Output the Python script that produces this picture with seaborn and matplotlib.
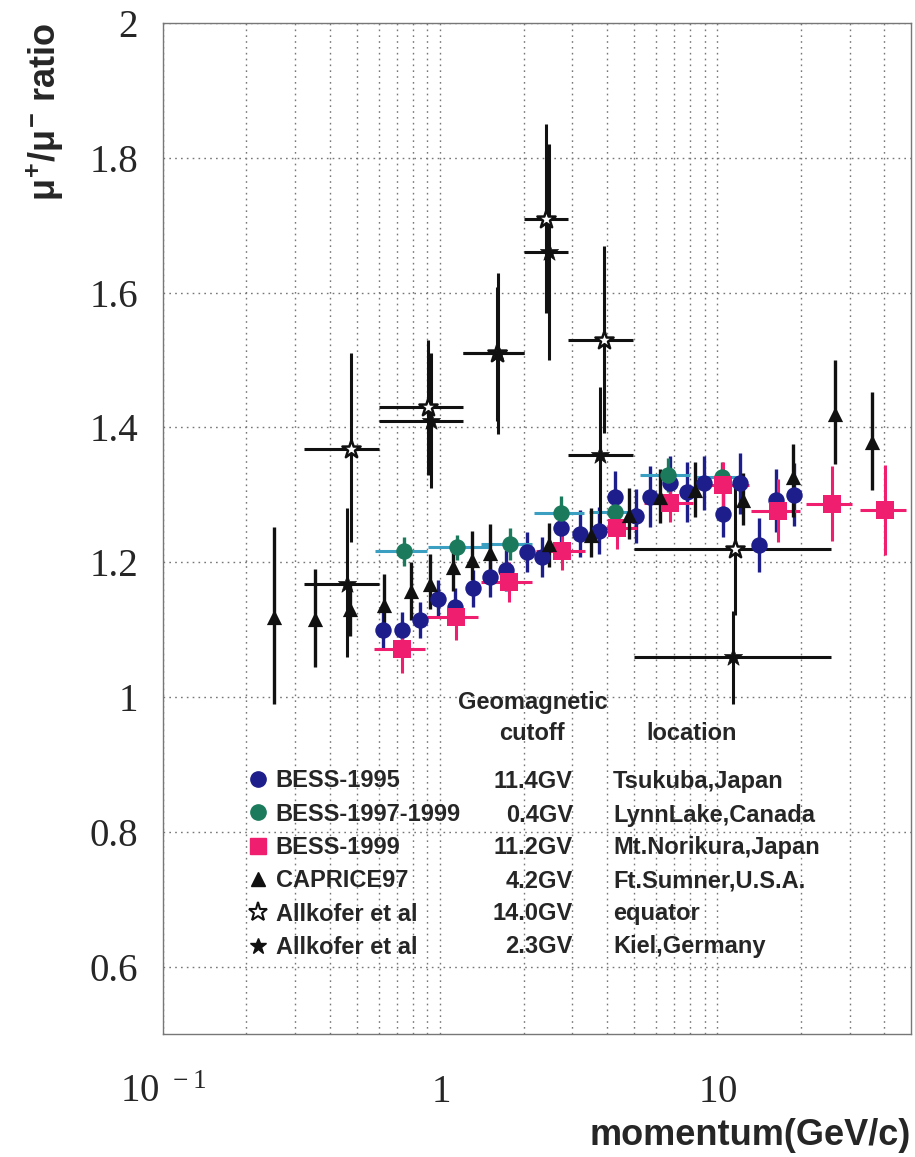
import numpy as np
import pandas as pd
import matplotlib
matplotlib.use('Agg')
import matplotlib.pyplot as plt
import seaborn as sns
from matplotlib.lines import Line2D
from matplotlib.ticker import FixedLocator, NullFormatter

# ---------------- data ----------------
# BESS-1995 (Tsukuba)
b95_p = [0.622, 0.728, 0.843, 0.981, 1.13, 1.31, 1.517, 1.73, 2.06, 2.34, 2.72, 3.2,
         3.74, 4.27, 5.07, 5.74, 6.73, 7.78, 8.97, 10.5, 12.1, 14.1, 16.3, 18.9]
b95_r = [1.099, 1.099, 1.114, 1.146, 1.134, 1.161, 1.178, 1.188, 1.215, 1.208, 1.251, 1.242,
         1.247, 1.297, 1.268, 1.297, 1.317, 1.304, 1.317, 1.272, 1.317, 1.226, 1.292, 1.300]
b95_e = [0.027, 0.027, 0.027, 0.027, 0.027, 0.027, 0.03, 0.03, 0.03, 0.03, 0.03, 0.035,
         0.035, 0.038, 0.04, 0.045, 0.04, 0.045, 0.04, 0.035, 0.045, 0.04, 0.047, 0.047]

# BESS-1997-1999 (Lynn Lake)
g_p = [0.738, 1.15, 1.78, 2.73, 4.28, 6.62, 10.4]
g_r = [1.216, 1.222, 1.227, 1.273, 1.274, 1.329, 1.326]
g_e = [0.022, 0.018, 0.024, 0.025, 0.025, 0.025, 0.022]
g_lo = [0.584, 0.903, 1.40, 2.18, 3.45, 5.28, 8.3]
g_hi = [0.898, 1.50, 2.14, 3.30, 5.0, 8.0, 12.0]

# BESS-1999 (Mt. Norikura)
p_p = [0.728, 1.14, 1.775, 2.76, 4.33, 6.73, 10.5, 16.5, 25.9, 40.2]
p_r = [1.071, 1.118, 1.170, 1.217, 1.251, 1.288, 1.314, 1.276, 1.286, 1.277]
p_elo = [1.035, 1.085, 1.141, 1.189, 1.22, 1.26, 1.267, 1.23, 1.231, 1.21]
p_ehi = [1.099, 1.143, 1.20, 1.247, 1.282, 1.312, 1.349, 1.324, 1.342, 1.344]
p_lo = [0.577, 0.90, 1.40, 2.21, 3.54, 5.42, 8.6, 13.2, 20.9, 32.7]
p_hi = [0.88, 1.37, 2.14, 3.33, 5.13, 8.18, 13.0, 19.8, 30.7, 47.9]

# CAPRICE97
c_p = [0.252, 0.353, 0.472, 0.625, 0.782, 0.923, 1.11, 1.30, 1.51, 2.47, 3.49, 4.8,
       6.19, 8.33, 12.4, 18.8, 26.6, 36.3]
c_r = [1.118, 1.116, 1.131, 1.136, 1.157, 1.168, 1.193, 1.203, 1.213, 1.227, 1.24, 1.27,
       1.297, 1.307, 1.292, 1.326, 1.420, 1.378]
c_elo = [0.989, 1.045, 1.09, 1.104, 1.114, 1.13, 1.158, 1.173, 1.178, 1.193, 1.207, 1.235,
         1.258, 1.267, 1.255, 1.267, 1.345, 1.307]
c_ehi = [1.252, 1.190, 1.17, 1.183, 1.20, 1.212, 1.23, 1.246, 1.256, 1.258, 1.28, 1.31,
         1.339, 1.349, 1.332, 1.376, 1.50, 1.453]

# Allkofer et al, equator (14.0GV)
ae_p = [0.478, 0.903, 1.60, 2.40, 3.90, 11.6]
ae_r = [1.368, 1.430, 1.510, 1.709, 1.529, 1.219]
ae_elo = [1.23, 1.329, 1.41, 1.57, 1.391, 1.121]
ae_ehi = [1.51, 1.529, 1.608, 1.85, 1.669, 1.32]
ae_lo = [0.322, 0.602, 1.21, 2.01, 2.89, 5.0]
ae_hi = [0.602, 1.207, 2.0, 2.89, 4.97, 25.8]

# Allkofer et al, Kiel (2.3GV)
ak_p = [0.462, 0.928, 1.62, 2.47, 3.78, 11.35]
ak_r = [1.168, 1.409, 1.510, 1.660, 1.359, 1.060]
ak_elo = [1.059, 1.31, 1.39, 1.50, 1.255, 0.989]
ak_ehi = [1.28, 1.51, 1.629, 1.82, 1.46, 1.128]
ak_lo = [0.323, 0.602, 1.21, 2.01, 2.89, 5.0]
ak_hi = [0.60, 1.207, 2.0, 2.89, 4.97, 25.8]

leg_names = ['BESS-1995', 'BESS-1997-1999', 'BESS-1999', 'CAPRICE97',
             'Allkofer et al', 'Allkofer et al']
leg_cutoff = ['11.4GV', '0.4GV', '11.2GV', '4.2GV', '14.0GV', '2.3GV']
leg_location = ['Tsukuba,Japan', 'LynnLake,Canada', 'Mt.Norikura,Japan',
                'Ft.Sumner,U.S.A.', 'equator', 'Kiel,Germany']

y_ticks = [0.6, 0.8, 1.0, 1.2, 1.4, 1.6, 1.8, 2.0]
y_ticklabels = ['0.6', '0.8', '1', '1.2', '1.4', '1.6', '1.8', '2']
x_ticks = [0.1, 1, 10]
x_ticklabels = [r'$\mathdefault{10^{\,\,-1}}$', r'$\mathdefault{1}$', r'$\mathdefault{10}$']

# ---------------- style ----------------
sns.set_style('white')
plt.rcParams['font.family'] = ['Liberation Sans', 'DejaVu Sans']
plt.rcParams['mathtext.fontset'] = 'custom'
plt.rcParams['mathtext.rm'] = 'Liberation Serif'
plt.rcParams['mathtext.it'] = 'Liberation Sans:bold'
plt.rcParams['mathtext.bf'] = 'Liberation Sans:bold'

navy = '#1d1d8c'
green = '#1b7a5c'
teal = '#3a9fc0'
pink = '#f01e6e'
black = '#111111'

fig = plt.figure(figsize=(9.15, 11.57), dpi=100)
ax = fig.add_axes([163 / 915, 1 - 1034 / 1157, 748 / 915, 1011 / 1157])
ax.set_xscale('log')


def asym(v, lo, hi):
    v = np.asarray(v); return [v - np.asarray(lo), np.asarray(hi) - v]


# error bars
ax.errorbar(b95_p, b95_r, yerr=b95_e, fmt='none', ecolor=navy, elinewidth=2.4, capsize=0, zorder=2)
ax.errorbar(g_p, g_r, xerr=asym(g_p, g_lo, g_hi), fmt='none', ecolor=teal, elinewidth=2.2, capsize=0, zorder=2)
ax.errorbar(g_p, g_r, yerr=g_e, fmt='none', ecolor=green, elinewidth=2.4, capsize=0, zorder=2)
ax.errorbar(p_p, p_r, xerr=asym(p_p, p_lo, p_hi), yerr=asym(p_r, p_elo, p_ehi), fmt='none',
            ecolor=pink, elinewidth=2.2, capsize=0, zorder=2)
ax.errorbar(c_p, c_r, yerr=asym(c_r, c_elo, c_ehi), fmt='none', ecolor=black, elinewidth=2.4, capsize=0, zorder=2)
ax.errorbar(ae_p, ae_r, xerr=asym(ae_p, ae_lo, ae_hi), yerr=asym(ae_r, ae_elo, ae_ehi), fmt='none',
            ecolor=black, elinewidth=2.2, capsize=0, zorder=2)
ax.errorbar(ak_p, ak_r, xerr=asym(ak_p, ak_lo, ak_hi), yerr=asym(ak_r, ak_elo, ak_ehi), fmt='none',
            ecolor=black, elinewidth=2.2, capsize=0, zorder=2)

# markers via seaborn
sns.scatterplot(data=pd.DataFrame({'p': b95_p, 'r': b95_r}), x='p', y='r', marker='o', s=140,
                color=navy, edgecolor=navy, linewidth=0, ax=ax, zorder=4)
sns.scatterplot(data=pd.DataFrame({'p': g_p, 'r': g_r}), x='p', y='r', marker='o', s=140,
                color=green, edgecolor=green, linewidth=0, ax=ax, zorder=4)
sns.scatterplot(data=pd.DataFrame({'p': p_p, 'r': p_r}), x='p', y='r', marker='s', s=160,
                color=pink, edgecolor=pink, linewidth=0, ax=ax, zorder=4)
sns.scatterplot(data=pd.DataFrame({'p': c_p, 'r': c_r}), x='p', y='r', marker='^', s=120,
                color=black, edgecolor=black, linewidth=0, ax=ax, zorder=4)
sns.scatterplot(data=pd.DataFrame({'p': ae_p, 'r': ae_r}), x='p', y='r', marker='*', s=190,
                color='white', edgecolor=black, linewidth=1.8, ax=ax, zorder=4)
sns.scatterplot(data=pd.DataFrame({'p': ak_p, 'r': ak_r}), x='p', y='r', marker='*', s=190,
                color=black, edgecolor=black, linewidth=0.5, ax=ax, zorder=4)

# axes
ax.set_xlim(0.1, 50)
ax.set_ylim(0.5, 2.0)
ax.xaxis.set_major_locator(FixedLocator(x_ticks))
ax.xaxis.set_minor_locator(FixedLocator([m * d for d in (0.1, 1, 10) for m in range(2, 10) if m * d < 50]))
ax.xaxis.set_minor_formatter(NullFormatter())
ax.set_xticklabels(x_ticklabels)
ax.yaxis.set_major_locator(FixedLocator(y_ticks))
ax.yaxis.set_minor_locator(FixedLocator(list(np.arange(0.55, 2.0, 0.05))))
ax.set_yticklabels(y_ticklabels)
ax.tick_params(axis='both', which='major', direction='in', labelsize=28,
               labelfontfamily='Liberation Serif', color='#666666')
ax.tick_params(axis='x', which='major', length=10, width=1, pad=49)
ax.tick_params(axis='y', which='major', length=6, width=1, pad=18)
ax.tick_params(axis='both', which='minor', direction='in', length=5, width=0.8, color='#666666')
for t in ax.xaxis.get_major_ticks():
    t.label1.set_verticalalignment('baseline')

ax.grid(True, which='major', axis='both', linestyle=(0, (1.2, 3)), color='#777777', linewidth=1)
ax.grid(True, which='minor', axis='x', linestyle=(0, (1.2, 3)), color='#777777', linewidth=1)
for s in ax.spines.values():
    s.set_color('#777777'); s.set_linewidth(1)

ax.set_xlabel('momentum(GeV/c)', fontsize=26, fontweight='bold', loc='right')
ax.xaxis.set_label_coords(1.0, -0.083)
ax.xaxis.label.set_verticalalignment('top')
ax.set_ylabel(r'$\mu^{\mathbf{+}}\mathbf{/}\mu^{\mathbf{-}}$ ratio', fontsize=26, fontweight='bold', loc='top')
ax.yaxis.set_label_coords(-0.13, 1.0)

# legend (markers + names) and extra columns
handles = [
    Line2D([], [], marker='o', linestyle='none', color=navy, markersize=11),
    Line2D([], [], marker='o', linestyle='none', color=green, markersize=11),
    Line2D([], [], marker='s', linestyle='none', color=pink, markersize=11),
    Line2D([], [], marker='^', linestyle='none', color=black, markersize=10),
    Line2D([], [], marker='*', linestyle='none', markerfacecolor='white', markeredgecolor=black,
           markeredgewidth=1.5, markersize=14),
    Line2D([], [], marker='*', linestyle='none', color=black, markersize=12),
]
ax.legend(handles, leg_names, loc='upper left', bbox_to_anchor=(0.1143, 0.262), frameon=False,
          prop={'weight': 'bold', 'size': 17}, handlelength=0.8, handletextpad=0.35,
          labelspacing=0.44, borderpad=0, borderaxespad=0)

row_y = [0.2502, 0.2166, 0.184, 0.1513, 0.1187, 0.0861]
for yy, c, l in zip(row_y, leg_cutoff, leg_location):
    ax.text(0.548, yy, c, transform=ax.transAxes, ha='right', va='center', fontsize=17, fontweight='bold')
    ax.text(0.6016, yy, l, transform=ax.transAxes, ha='left', va='center', fontsize=17, fontweight='bold')
ax.text(0.4947, 0.3274, 'Geomagnetic', transform=ax.transAxes, ha='center', va='center', fontsize=17, fontweight='bold')
ax.text(0.4933, 0.2977, 'cutoff', transform=ax.transAxes, ha='center', va='center', fontsize=17, fontweight='bold')
ax.text(0.707, 0.2977, 'location', transform=ax.transAxes, ha='center', va='center', fontsize=17, fontweight='bold')

fig.savefig('out.png', dpi=100)
